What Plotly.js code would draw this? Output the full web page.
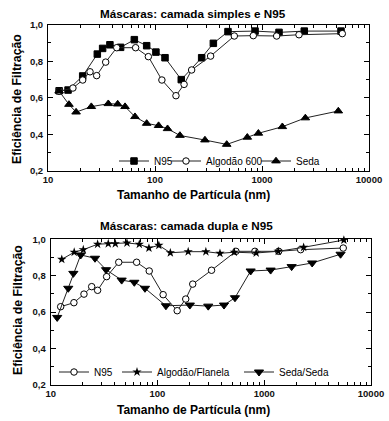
<!DOCTYPE html>
<html>
<head>
<meta charset="utf-8">
<script src="https://cdn.plot.ly/plotly-3.0.1.min.js"></script>
<style>html,body{margin:0;padding:0;background:#fff}#chart{width:389px;height:421px}</style>
</head>
<body>
<div id="chart"></div>
<script>
// ---- Data ----
const topN95X = [12.7,15.4,21.1,28.9,32.4,37.9,47.7,64.1,83.6,102,124,176,273,351,481,861,1442,2484,5473];
const topN95Y = [0.638,0.642,0.719,0.839,0.870,0.890,0.876,0.918,0.885,0.850,0.819,0.699,0.819,0.898,0.962,0.965,0.958,0.965,0.965];

const topAlgX = [12.7,17.1,21.1,24.7,28.5,34.6,43.9,65.9,86.7,116,157,187,220,331,551,829,1371,2217,5629];
const topAlgY = [0.635,0.653,0.697,0.742,0.721,0.795,0.874,0.874,0.825,0.697,0.611,0.673,0.752,0.828,0.938,0.940,0.938,0.945,0.951];

const topSedaX = [12.7,15.7,18.3,25.4,36.6,44.8,52.5,65.0,83.6,108,131,171,293,468,729,925,1549,2541,5165];
const topSedaY = [0.636,0.563,0.521,0.551,0.567,0.565,0.551,0.496,0.459,0.447,0.430,0.393,0.368,0.344,0.383,0.405,0.441,0.489,0.527];

const botN95X = [12.4,16.5,20.5,24.2,27.5,33.4,43.4,63.8,83.7,113,153,184,214,321,543,818,1365,2193,5495];
const botN95Y = [0.630,0.652,0.699,0.740,0.720,0.795,0.874,0.874,0.826,0.696,0.608,0.672,0.754,0.830,0.934,0.934,0.934,0.943,0.952];

const botAFX = [12.7,16.6,20.2,27.5,34.6,40.3,51.8,67.6,83.2,103,132,194,284,385,524,841,1352,2339,5570];
const botAFY = [0.890,0.929,0.943,0.973,0.976,0.976,0.980,0.973,0.952,0.967,0.926,0.932,0.932,0.923,0.929,0.925,0.934,0.956,0.996];

const botSSX = [11.5,14.6,16.3,19.1,26.0,33.0,46.2,60.7,76.4,120,201,299,420,532,746,1148,1806,2812,5187];
const botSSY = [0.571,0.731,0.813,0.914,0.896,0.833,0.776,0.764,0.731,0.635,0.639,0.633,0.639,0.679,0.826,0.831,0.850,0.870,0.918];

const names = {
  topN95: 'N95', topAlg: 'Algodão 600', topSeda: 'Seda',
  botN95: 'N95', botAF: 'Algodão/Flanela', botSS: 'Seda/Seda'
};
const titles = {
  top: 'Máscaras: camada simples e N95',
  bottom: 'Máscaras: camada dupla e N95',
  x: 'Tamanho de Partícula (nm)',
  y: 'Eficiência de Filtração'
};

// ---- Styling ----
const W = 389, H = 421;
const LINE = {color: '#222', width: 1};
function mk(symbol, size, filled) {
  return {symbol: symbol, size: size, color: filled ? '#000' : '#fff', line: {color: '#000', width: 1}};
}
function tr(x, y, name, xa, ya, marker, legend) {
  return {x: x, y: y, name: name, xaxis: xa, yaxis: ya, type: 'scatter', mode: 'lines+markers',
    line: LINE, marker: marker, legend: legend, cliponaxis: false};
}

const data = [
  tr(topN95X, topN95Y, names.topN95, 'x', 'y', mk('square', 6.5, true), 'legend'),
  tr(topAlgX, topAlgY, names.topAlg, 'x', 'y', mk('circle', 6.5, false), 'legend2'),
  tr(topSedaX, topSedaY, names.topSeda, 'x', 'y', mk('triangle-up', 7.5, true), 'legend3'),
  tr(botN95X, botN95Y, names.botN95, 'x2', 'y2', mk('circle', 6.5, false), 'legend4'),
  tr(botAFX, botAFY, names.botAF, 'x2', 'y2', {symbol: 'star', size: 7, color: '#000', line: {color: '#000', width: 0}}, 'legend5'),
  tr(botSSX, botSSY, names.botSS, 'x2', 'y2', mk('triangle-down', 8, true), 'legend6')
];

const tickFont = {family: 'Liberation Sans, Arial, sans-serif', size: 9.5, color: '#111', weight: 'bold'};
function xax(d0, d1, anchor) {
  return {type: 'log', range: [1, 4], domain: [d0 / W, d1 / W], anchor: anchor,
    dtick: 1, tickformat: 'd', ticks: 'inside', ticklen: 5, tickwidth: 1, tickcolor: '#000',
    showline: true, linecolor: '#000', linewidth: 1, mirror: 'ticks', showgrid: false, zeroline: false,
    tickfont: tickFont, ticklabelstandoff: 0,
    minor: {dtick: 'D1', ticks: 'inside', ticklen: 3, tickcolor: '#000', tickwidth: 1, showgrid: false}};
}
function yax(top, bot, anchor) {
  return {range: [0.2, 1.0], domain: [(H - bot) / H, (H - top) / H], anchor: anchor,
    tick0: 0.2, dtick: 0.2, tickformat: '.1f', ticks: 'inside', ticklen: 5, tickwidth: 1, tickcolor: '#000',
    showline: true, linecolor: '#000', linewidth: 1, mirror: 'ticks', showgrid: false, zeroline: false,
    tickfont: tickFont, ticklabelstandoff: 2,
    minor: {dtick: 0.1, ticks: 'inside', ticklen: 3, tickcolor: '#000', tickwidth: 1, showgrid: false}};
}
const legFont = {family: 'Liberation Sans, Arial, sans-serif', size: 10, color: '#000'};
function leg(xpx, ypx) {
  return {x: xpx / W, y: (H - ypx) / H, xref: 'paper', yref: 'paper', xanchor: 'left', yanchor: 'middle',
    bgcolor: 'rgba(0,0,0,0)', borderwidth: 0, font: legFont, orientation: 'h', itemwidth: 30};
}
const bold = {family: 'Liberation Sans, Arial, sans-serif', size: 12, color: '#000', weight: 'bold'};
function ann(text, xpx, ypx, angle, size) {
  return {text: text, x: xpx / W, y: (H - ypx) / H, xref: 'paper', yref: 'paper', showarrow: false,
    xanchor: 'center', yanchor: 'middle', textangle: angle || 0, font: Object.assign({}, bold, {size: size || 12})};
}

const layout = {
  width: W, height: H, margin: {l: 0, r: 0, t: 0, b: 0},
  paper_bgcolor: '#fff', plot_bgcolor: '#fff', separators: ',.',
  showlegend: true,
  xaxis: xax(48, 369, 'y'),
  yaxis: yax(24.7, 170.7, 'x'),
  xaxis2: xax(50.7, 371, 'y2'),
  yaxis2: yax(239.3, 385, 'x2'),
  legend: leg(114, 161), legend2: leg(166, 161), legend3: leg(256, 161),
  legend4: leg(54, 372), legend5: leg(117, 372), legend6: leg(239, 372),
  annotations: [
    ann(titles.top, 192.5, 13.5, 0, 11.7),
    ann(titles.bottom, 186.7, 225, 0, 11.7),
    ann(titles.x, 193.7, 195, 0, 12),
    ann(titles.x, 193.7, 410, 0, 12),
    ann(titles.y, 17, 99, -90, 12.3),
    ann(titles.y, 18, 310, -90, 12.3)
  ]
};

Plotly.newPlot('chart', data, layout, {staticPlot: true, displayModeBar: false});
</script>
</body>
</html>
